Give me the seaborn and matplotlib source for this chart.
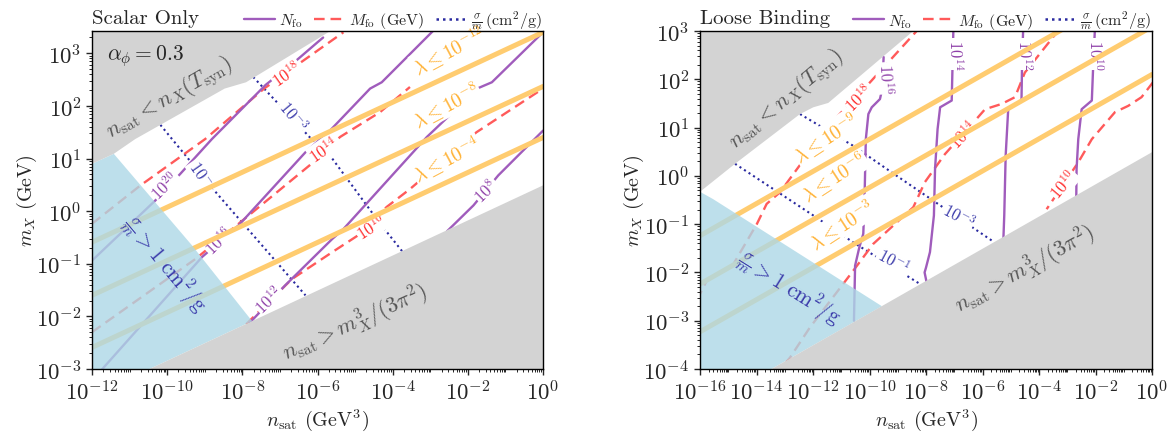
import numpy as np
import matplotlib
matplotlib.use('Agg')
import matplotlib.pyplot as plt
import seaborn as sns
from matplotlib.lines import Line2D
from matplotlib.ticker import FixedLocator, FixedFormatter, LogLocator, NullFormatter

# ---------------- data (log10 of n_sat, log10 of m_X) ----------------
# Left panel: "Scalar Only"
L_Nfo_20_x = [-12.0, -10.32, -9.65, -8.81, -7.38, -6.57, -6.0, -5.85]
L_Nfo_20_y = [-0.94, 0.20, 0.71, 1.37, 2.40, 2.86, 3.21, 3.30]
L_Nfo_16_x = [-11.8, -9.07, -8.10, -6.32, -5.67, -4.60, -4.29, -2.92]
L_Nfo_16_y = [-3.06, -0.87, -0.27, 1.12, 1.53, 2.33, 2.45, 3.43]
L_Nfo_12_x = [-7.8, -6.86, -5.61, -5.31, -3.09, -1.72, -1.36, 0.0]
L_Nfo_12_y = [-2.12, -1.41, -0.53, -0.34, 1.41, 2.34, 2.45, 3.40]
L_Nfo_8_x = [-2.55, -1.85, -1.19, 0.0]
L_Nfo_8_y = [-0.38, 0.11, 0.68, 1.53]

L_Mfo_18_x = [-12.0, -10.71, -8.99, -7.42, -6.38, -5.31]
L_Mfo_18_y = [-0.24, 0.49, 1.37, 2.33, 2.86, 3.40]
L_Mfo_14_x = [-12.0, -9.25, -8.10, -6.11, -5.40, -4.34, -3.54]
L_Mfo_14_y = [-2.30, -0.91, -0.24, 0.93, 1.41, 1.88, 2.36]
L_Mfo_10_x = [-7.9, -6.68, -5.61, -4.9, -4.16, -3.54, -1.77, 0.0]
L_Mfo_10_y = [-2.15, -1.29, -0.78, -0.45, 0.08, 0.42, 1.50, 2.33]

L_sig_1_x = [-10.18, -9.87, -8.67, -6.32]
L_sig_1_y = [1.64, 1.37, 0.33, -1.60]
L_sig_3_x = [-7.71, -6.2, -5.67, -4.34, -3.75]
L_sig_3_y = [2.55, 1.40, 1.06, -0.23, -0.76]

L_lam_x = [-12.0, 0.0]
L_lam_12_y = [-0.59, 3.40]
L_lam_8_y = [-1.60, 2.37]
L_lam_4_y = [-2.59, 1.40]

L_gray_top_x = [-12.0, -11.42, -10.85, -8.47, -7.90, -5.62, -5.5]
L_gray_top_y = [0.90, 1.09, 1.37, 2.33, 2.45, 3.44, 3.5]
L_gray_bot_x = [-10.47, 0.0]
L_gray_bot_y = [-3.0, 0.49]
L_blue_x = [-12.0, -10.47, -7.74, -9.34, -11.42, -12.0]
L_blue_y = [-3.0, -3.0, -2.09, -0.65, 1.09, 0.90]

# Right panel: "Loose Binding"
R_Nfo_16_x = [-9.50, -9.55, -9.63, -9.92, -10.04, -10.13, -10.18, -10.22, -10.36, -10.51, -10.55]
R_Nfo_16_y = [2.46, 1.80, 1.59, 1.42, 1.28, 0.76, -0.58, -1.20, -1.48, -1.86, -3.0]
R_Nfo_14_x = [-7.03, -7.06, -7.09, -7.50, -7.59, -7.68, -7.72, -7.86, -8.0, -8.05, -7.98]
R_Nfo_14_y = [3.05, 2.3, 1.56, 1.42, 0.97, 0.14, -0.82, -1.58, -1.9, -2.0, -2.2]
R_Nfo_12_x = [-4.56, -4.60, -4.62, -5.09, -5.18, -5.23, -5.26]
R_Nfo_12_y = [3.05, 2.3, 1.56, 1.38, 0.42, -0.82, -1.3]
R_Nfo_10_x = [-2.02, -2.08, -2.13, -2.49, -2.61, -2.67, -2.68]
R_Nfo_10_y = [3.05, 2.3, 1.56, 1.38, 0.76, 0.14, -0.42]

R_Mfo_18_x = [-8.2, -8.33, -10.04, -11.40, -13.17, -13.64, -13.99, -14.82, -15.76, -16.0]
R_Mfo_18_y = [3.1, 3.0, 1.90, 1.07, -0.34, -0.58, -1.0, -1.83, -2.17, -2.45]
R_Mfo_14_x = [-3.3, -3.37, -4.50, -4.85, -5.32, -5.91, -6.27, -7.33, -8.04, -8.45, -9.87, -10.57, -12.11, -12.81, -12.95]
R_Mfo_14_y = [3.05, 2.97, 2.14, 1.63, 1.49, 1.38, 1.14, 0.45, -0.13, -0.65, -1.41, -1.96, -3.14, -3.76, -3.86]
R_Mfo_10_x = [0.05, -0.37, -0.84, -1.31, -2.13, -2.61, -3.73]
R_Mfo_10_y = [1.95, 1.63, 1.45, 1.32, 0.76, 0.28, -0.69]

R_sig_1_x = [-14.76, -11.99, -10.57, -8.21]
R_sig_1_y = [0.25, -0.82, -1.38, -2.24]
R_sig_3_x = [-12.46, -10.57, -9.21, -5.67]
R_sig_3_y = [1.28, 0.62, 0.07, -1.34]

R_lam_x = [-16.0, 0.0]
R_lam_9_y = [-1.24, 4.09]
R_lam_6_y = [-2.24, 3.09]
R_lam_3_y = [-3.23, 2.10]

R_gray_top_x = [-16.0, -14.76, -12.46, -11.99, -11.46, -8.45, -8.3]
R_gray_top_y = [-0.33, 0.25, 1.28, 1.42, 1.51, 3.0, 3.1]
R_gray_bot_x = [-13.47, 0.0]
R_gray_bot_y = [-4.0, 0.49]
R_blue_x = [-16.0, -13.47, -9.56, -15.54, -16.0]
R_blue_y = [-4.0, -4.0, -2.70, -0.48, -0.33]

L_xticks = [-12, -10, -8, -6, -4, -2, 0]
L_xticklabels = [r'$10^{-12}$', r'$10^{-10}$', r'$10^{-8}$', r'$10^{-6}$', r'$10^{-4}$', r'$10^{-2}$', r'$10^{0}$']
L_yticks = [-3, -2, -1, 0, 1, 2, 3]
L_yticklabels = [r'$10^{-3}$', r'$10^{-2}$', r'$10^{-1}$', r'$10^{0}$', r'$10^{1}$', r'$10^{2}$', r'$10^{3}$']
R_xticks = [-16, -14, -12, -10, -8, -6, -4, -2, 0]
R_xticklabels = [r'$10^{-16}$', r'$10^{-14}$', r'$10^{-12}$', r'$10^{-10}$', r'$10^{-8}$', r'$10^{-6}$', r'$10^{-4}$', r'$10^{-2}$', r'$10^{0}$']
R_yticks = [-4, -3, -2, -1, 0, 1, 2, 3]
R_yticklabels = [r'$10^{-4}$', r'$10^{-3}$', r'$10^{-2}$', r'$10^{-1}$', r'$10^{0}$', r'$10^{1}$', r'$10^{2}$', r'$10^{3}$']

# ---------------- style ----------------
sns.set_style('ticks')
plt.rcParams.update({
    'font.family': 'serif',
    'font.serif': ['cmr10', 'DejaVu Serif'],
    'mathtext.fontset': 'cm',
    'axes.formatter.use_mathtext': True,
    'axes.edgecolor': 'black',
    'axes.linewidth': 1.0,
})

C_PURPLE = '#a05cbc'
C_PURPLE_T = '#8e3fa8'
C_RED = '#ff5a5a'
C_RED_T = '#ff2a2a'
C_BLUE = '#2a2aa0'
C_BLUE_T = '#3a3aaa'
C_ORANGE = '#ffcc70'
C_ORANGE_T = '#ffb030'
C_GRAY = '#d3d3d3'
C_GRAYTXT = '#555555'

fig = plt.figure(figsize=(11.72, 4.35), dpi=100)
axL = fig.add_axes([92/1172, 65/435, 451/1172, 338.3/435])
axR = fig.add_axes([700/1172, 65/435, 452/1172, 338/435])


def p(v):
    return 10.0 ** np.asarray(v, dtype=float)


def line(ax, xs, ys, kind):
    styles = {
        'N': dict(color=C_PURPLE, linewidth=1.7, linestyle='-', zorder=2.2),
        'M': dict(color=C_RED, linewidth=1.7, linestyle=(0, (4.5, 2.5)), zorder=2.1),
        'S': dict(color=C_BLUE, linewidth=1.5, linestyle=(0, (1, 1.6)), zorder=2.0),
        'L': dict(color=C_ORANGE, linewidth=3.6, linestyle='-', zorder=3.0),
    }
    sns.lineplot(x=p(xs), y=p(ys), ax=ax, sort=False, estimator=None,
                 legend=False, **styles[kind])


def txt(ax, x, y, s, color, size, rot, box=True, z=2.9):
    kw = dict(color=color, fontsize=size, rotation=rot, ha='center', va='center',
              rotation_mode='anchor', zorder=z)
    if box:
        kw['bbox'] = dict(facecolor='white', edgecolor='none', pad=0.6)
    ax.text(10.0 ** x, 10.0 ** y, s, **kw)


def setup(ax, xlim, ylim, xt, xtl, yt, ytl):
    ax.set_xscale('log')
    ax.set_yscale('log')
    ax.set_xlim(10.0 ** xlim[0], 10.0 ** xlim[1])
    ax.set_ylim(10.0 ** ylim[0], 10.0 ** ylim[1])
    ax.xaxis.set_major_locator(FixedLocator(p(xt)))
    ax.xaxis.set_major_formatter(FixedFormatter(xtl))
    ax.yaxis.set_major_locator(FixedLocator(p(yt)))
    ax.yaxis.set_major_formatter(FixedFormatter(ytl))
    ax.xaxis.set_minor_locator(LogLocator(base=10, subs=np.arange(1, 10), numticks=200))
    ax.yaxis.set_minor_locator(LogLocator(base=10, subs=np.arange(1, 10), numticks=200))
    ax.xaxis.set_minor_formatter(NullFormatter())
    ax.yaxis.set_minor_formatter(NullFormatter())
    ax.tick_params(which='major', direction='out', length=4.5, width=1.0, labelsize=16.5, pad=3)
    ax.tick_params(which='minor', direction='out', length=2.2, width=0.7)
    ax.set_xlabel(r'$n_{\rm sat}$ (GeV$^3$)', fontsize=14.5, labelpad=2)
    ax.set_ylabel(r'$m_X$ (GeV)', fontsize=14.5, labelpad=3)
    for s in ax.spines.values():
        s.set_visible(True)
        s.set_color('black')
        s.set_zorder(10)


# ---------------- left panel ----------------
ax = axL
for xs, ys in [(L_lam_x, L_lam_12_y), (L_lam_x, L_lam_8_y), (L_lam_x, L_lam_4_y)]:
    line(ax, xs, ys, 'L')
for xs, ys in [(L_Nfo_20_x, L_Nfo_20_y), (L_Nfo_16_x, L_Nfo_16_y),
               (L_Nfo_12_x, L_Nfo_12_y), (L_Nfo_8_x, L_Nfo_8_y)]:
    line(ax, xs, ys, 'N')
for xs, ys in [(L_Mfo_18_x, L_Mfo_18_y), (L_Mfo_14_x, L_Mfo_14_y), (L_Mfo_10_x, L_Mfo_10_y)]:
    line(ax, xs, ys, 'M')
for xs, ys in [(L_sig_1_x, L_sig_1_y), (L_sig_3_x, L_sig_3_y)]:
    line(ax, xs, ys, 'S')

ax.fill(p(L_blue_x), p(L_blue_y), color='lightblue', alpha=0.8, lw=0, zorder=3.5)
ax.fill(p(L_gray_top_x + [-5.5, -12.0]), p(L_gray_top_y + [3.6, 3.6]), color=C_GRAY, lw=0, zorder=4)
ax.fill(p(L_gray_bot_x + [0.0]), p(L_gray_bot_y + [-3.0]), color=C_GRAY, lw=0, zorder=4)

txt(ax, -10.05, 0.49, r'$10^{20}$', C_PURPLE_T, 12, 45)
txt(ax, -8.63, -0.56, r'$10^{16}$', C_PURPLE_T, 12, 45)
txt(ax, -7.30, -1.67, r'$10^{12}$', C_PURPLE_T, 12, 45)
txt(ax, -1.52, 0.40, r'$10^{8}$', C_PURPLE_T, 12, 45)
txt(ax, -6.82, 2.61, r'$10^{18}$', C_RED_T, 12, 35)
txt(ax, -5.83, 1.18, r'$10^{14}$', C_RED_T, 12, 35)
txt(ax, -4.57, -0.30, r'$10^{10}$', C_RED_T, 12, 33)
txt(ax, -9.05, 0.68, r'$10^{-1}$', C_BLUE_T, 12, -55)
txt(ax, -6.64, 1.82, r'$10^{-3}$', C_BLUE_T, 12, -50)
txt(ax, -2.50, 3.07, r'$\lambda \leq 10^{-12}$', C_ORANGE_T, 14, 28)
txt(ax, -2.58, 2.02, r'$\lambda \leq 10^{-8}$', C_ORANGE_T, 14, 28)
txt(ax, -2.58, 1.01, r'$\lambda \leq 10^{-4}$', C_ORANGE_T, 14, 28)

txt(ax, -9.94, 2.16, r'$n_{\rm sat} < n_X(T_{\rm syn})$', C_GRAYTXT, 16, 30, box=False, z=6)
txt(ax, -5.0, -2.11, r'$n_{\rm sat} > m_X^3/(3\pi^2)$', C_GRAYTXT, 16, 24, box=False, z=6)
txt(ax, -10.09, -1.0, r'$\frac{\sigma}{m} > 1\ {\rm cm}^2/{\rm g}$', C_BLUE_T, 15.5, -50, box=False, z=6)
ax.text(10.0 ** -11.6, 10.0 ** 2.96, r'$\alpha_\phi = 0.3$', fontsize=15.5, ha='left', va='center', zorder=6)

setup(ax, (-12, 0), (-3, 3.43), L_xticks, L_xticklabels, L_yticks, L_yticklabels)
ax.yaxis.set_label_coords(-0.118, 0.5)

# ---------------- right panel ----------------
ax = axR
for xs, ys in [(R_lam_x, R_lam_9_y), (R_lam_x, R_lam_6_y), (R_lam_x, R_lam_3_y)]:
    line(ax, xs, ys, 'L')
for xs, ys in [(R_Nfo_16_x, R_Nfo_16_y), (R_Nfo_14_x, R_Nfo_14_y),
               (R_Nfo_12_x, R_Nfo_12_y), (R_Nfo_10_x, R_Nfo_10_y)]:
    line(ax, xs, ys, 'N')
for xs, ys in [(R_Mfo_18_x, R_Mfo_18_y), (R_Mfo_14_x, R_Mfo_14_y), (R_Mfo_10_x, R_Mfo_10_y)]:
    line(ax, xs, ys, 'M')
for xs, ys in [(R_sig_1_x, R_sig_1_y), (R_sig_3_x, R_sig_3_y)]:
    line(ax, xs, ys, 'S')

ax.fill(p(R_blue_x), p(R_blue_y), color='lightblue', alpha=0.8, lw=0, zorder=3.5)
ax.fill(p(R_gray_top_x + [-8.3, -16.0]), p(R_gray_top_y + [3.2, 3.2]), color=C_GRAY, lw=0, zorder=4)
ax.fill(p(R_gray_bot_x + [0.0]), p(R_gray_bot_y + [-4.0]), color=C_GRAY, lw=0, zorder=4)

txt(ax, -9.42, 2.02, r'$10^{16}$', C_PURPLE_T, 12, -88)
txt(ax, -6.97, 2.52, r'$10^{14}$', C_PURPLE_T, 12, -90)
txt(ax, -4.50, 2.52, r'$10^{12}$', C_PURPLE_T, 12, -90)
txt(ax, -1.99, 2.52, r'$10^{10}$', C_PURPLE_T, 12, -90)
txt(ax, -10.39, 1.63, r'$10^{18}$', C_RED_T, 12, 45)
txt(ax, -6.68, 0.87, r'$10^{14}$', C_RED_T, 12, 47)
txt(ax, -3.14, -0.17, r'$10^{10}$', C_RED_T, 12, 50)
txt(ax, -9.16, -1.76, r'$10^{-1}$', C_BLUE_T, 12, -28)
txt(ax, -6.85, -0.82, r'$10^{-3}$', C_BLUE_T, 12, -28)
txt(ax, -11.55, 0.80, r'$\lambda \leq 10^{-9}$', C_ORANGE_T, 14, 33)
txt(ax, -11.26, 0.00, r'$\lambda \leq 10^{-6}$', C_ORANGE_T, 14, 33)
txt(ax, -10.97, -1.00, r'$\lambda \leq 10^{-3}$', C_ORANGE_T, 14, 33)

txt(ax, -12.93, 1.59, r'$n_{\rm sat} < n_X(T_{\rm syn})$', C_GRAYTXT, 16, 40, box=False, z=6)
txt(ax, -4.50, -1.93, r'$n_{\rm sat} > m_X^3/(3\pi^2)$', C_GRAYTXT, 16, 29, box=False, z=6)
txt(ax, -12.87, -2.31, r'$\frac{\sigma}{m} > 1\ {\rm cm}^2/{\rm g}$', C_BLUE_T, 15.5, -32, box=False, z=6)

setup(ax, (-16, 0), (-4, 3), R_xticks, R_xticklabels, R_yticks, R_yticklabels)
ax.yaxis.set_label_coords(-0.12, 0.5)

# ---------------- titles and legends ----------------
handles = [Line2D([], [], color=C_PURPLE, lw=1.7),
           Line2D([], [], color=C_RED, lw=1.7, linestyle=(0, (4.5, 2.5))),
           Line2D([], [], color=C_BLUE, lw=1.8, linestyle=(0, (1, 1.6)))]
labels = [r'$N_{\rm fo}$', r'$M_{\rm fo}$ (GeV)', r'$\frac{\sigma}{m}\,({\rm cm}^2/{\rm g})$']
for ax, title in [(axL, 'Scalar Only'), (axR, 'Loose Binding')]:
    ax.text(0.0, 1.012, title, transform=ax.transAxes, ha='left', va='bottom', fontsize=15)
    ax.legend(handles, labels, loc='lower right', bbox_to_anchor=(1.0, 0.995), ncol=3,
              frameon=False, fontsize=11.5, handlelength=1.9, handletextpad=0.3,
              columnspacing=0.7, borderaxespad=0.0, borderpad=0.1)

fig.savefig('out.png', dpi=100)
